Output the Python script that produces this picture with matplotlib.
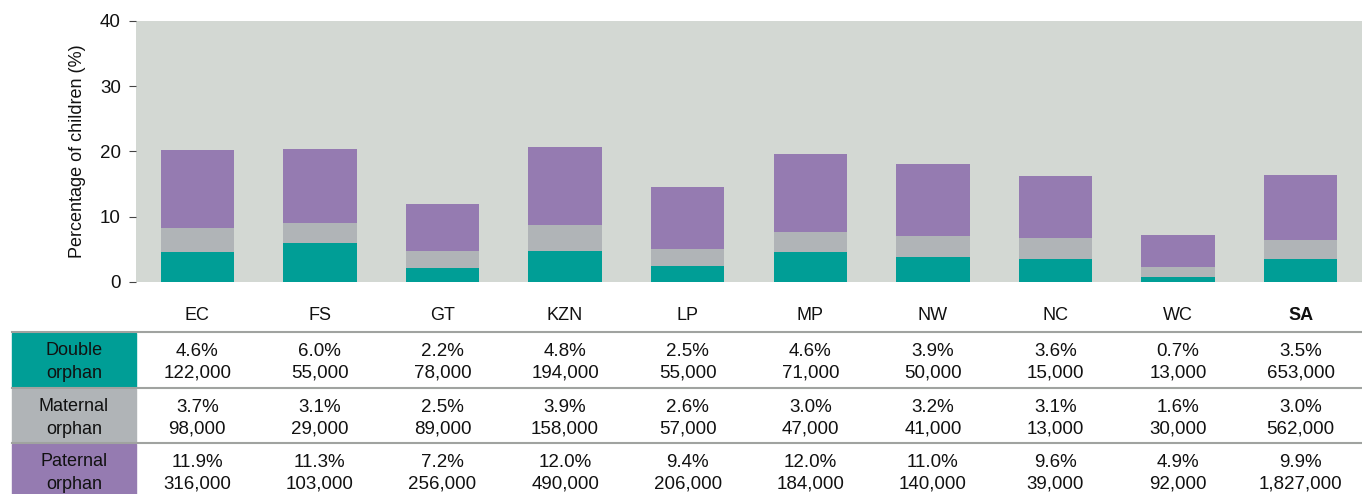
import matplotlib
matplotlib.use('Agg')
import matplotlib.pyplot as plt
from matplotlib.patches import Rectangle
from matplotlib.lines import Line2D
from matplotlib.transforms import blended_transform_factory

# Données
provinces = ['EC', 'FS', 'GT', 'KZN', 'LP', 'MP', 'NW', 'NC', 'WC', 'SA']
double_pct = [4.6, 6.0, 2.2, 4.8, 2.5, 4.6, 3.9, 3.6, 0.7, 3.5]
maternal_pct = [3.7, 3.1, 2.5, 3.9, 2.6, 3.0, 3.2, 3.1, 1.6, 3.0]
paternal_pct = [11.9, 11.3, 7.2, 12.0, 9.4, 12.0, 11.0, 9.6, 4.9, 9.9]
double_n = ['122,000', '55,000', '78,000', '194,000', '55,000', '71,000', '50,000', '15,000', '13,000', '653,000']
maternal_n = ['98,000', '29,000', '89,000', '158,000', '57,000', '47,000', '41,000', '13,000', '30,000', '562,000']
paternal_n = ['316,000', '103,000', '256,000', '490,000', '206,000', '184,000', '140,000', '39,000', '92,000', '1,827,000']
row_labels = ['Double\norphan', 'Maternal\norphan', 'Paternal\norphan']

c_double = '#009e96'
c_maternal = '#b0b4b7'
c_paternal = '#957bb1'

plt.rcParams['font.family'] = ['Liberation Sans', 'DejaVu Sans']

W, H = 1362, 494
fig = plt.figure(figsize=(W / 100, H / 100), dpi=100)
ax = fig.add_axes([136 / W, 1 - 282 / H, 1 - 136 / W, (282 - 21) / H])
ax.set_facecolor('#d3d8d3')

x = list(range(len(provinces)))
base2 = [a + b for a, b in zip(double_pct, maternal_pct)]
ax.bar(x, double_pct, width=0.6, color=c_double, zorder=2)
ax.bar(x, maternal_pct, width=0.6, bottom=double_pct, color=c_maternal, zorder=2)
ax.bar(x, paternal_pct, width=0.6, bottom=base2, color=c_paternal, zorder=2)

ax.set_xlim(-0.5, len(provinces) - 0.5)
ax.set_ylim(0, 40)
ax.set_yticks([0, 10, 20, 30, 40])
ax.set_xticks([])
for s in ax.spines.values():
    s.set_visible(False)
ax.tick_params(axis='y', labelsize=13.5, length=5, color='#444444', pad=6, labelcolor='#111111')
ax.set_ylabel('Percentage of children (%)', fontsize=13, color='#111111', labelpad=10)

# Tableau sous le graphique
tr = blended_transform_factory(ax.transData, fig.transFigure)
fy = lambda py: 1 - py / H

for i, p in enumerate(provinces):
    ax.text(i, fy(315), p, transform=tr, ha='center', va='center', fontsize=13,
            fontweight='bold' if p == 'SA' else 'normal', color='#111111', clip_on=False)

rows = [(double_pct, double_n, c_double, 333, 387),
        (maternal_pct, maternal_n, c_maternal, 389, 442),
        (paternal_pct, paternal_n, c_paternal, 444, 500)]
for (pcts, ns, col, top, bot), lab in zip(rows, row_labels):
    fig.patches.append(Rectangle((12 / W, fy(bot)), (136 - 12) / W, (bot - top) / H,
                                 transform=fig.transFigure, color=col, zorder=0))
    fig.text(74 / W, fy(top + 29), lab,
             ha='center', va='center', fontsize=13, color='#111111', linespacing=1.5)
    for i in range(len(provinces)):
        ax.text(i, fy(top + 18), '%.1f%%' % pcts[i], transform=tr, ha='center', va='center',
                fontsize=13.5, color='#111111', clip_on=False)
        ax.text(i, fy(top + 40), ns[i], transform=tr, ha='center', va='center',
                fontsize=13.5, color='#111111', clip_on=False)

for py in [332, 388, 443]:
    fig.lines.append(Line2D([12 / W, 1], [fy(py), fy(py)], transform=fig.transFigure,
                            color='#a0a3a0', linewidth=1.5))

plt.savefig('out.png', dpi=100)
